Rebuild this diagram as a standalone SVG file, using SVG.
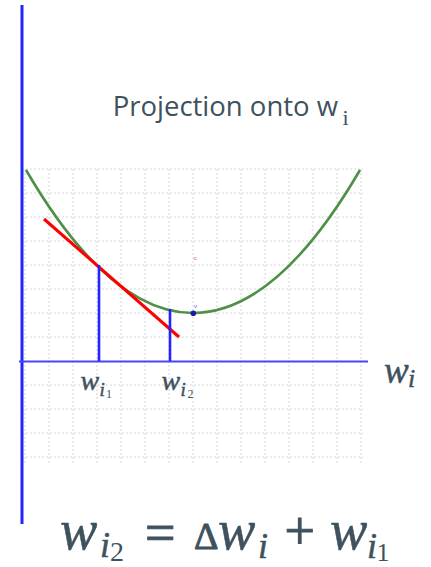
<svg xmlns="http://www.w3.org/2000/svg" width="431" height="567" viewBox="0 0 431 567">
<style>
.grid line{stroke:#d6d6d6;stroke-width:1;stroke-dasharray:2 2}
.ax{stroke:#2424ff;fill:none}
.ink{fill:#3e525e}
.sans{font-family:"Open Sans","Noto Sans",sans-serif}
.math{font-family:"Liberation Serif","DejaVu Serif",serif;font-style:italic;stroke:#3e525e;stroke-width:0.5}
.up{font-family:"Liberation Serif","DejaVu Serif",serif;font-style:normal}
.eq{stroke:#3e525e;stroke-width:1}
</style>
<rect width="431" height="567" fill="#fff"/>
<g id="grid" class="grid">
<line x1="25" y1="169" x2="25" y2="465"/>
<line x1="49" y1="169" x2="49" y2="465"/>
<line x1="73" y1="169" x2="73" y2="465"/>
<line x1="97" y1="169" x2="97" y2="465"/>
<line x1="121" y1="169" x2="121" y2="465"/>
<line x1="145" y1="169" x2="145" y2="465"/>
<line x1="169" y1="169" x2="169" y2="465"/>
<line x1="193" y1="169" x2="193" y2="465"/>
<line x1="217" y1="169" x2="217" y2="465"/>
<line x1="241" y1="169" x2="241" y2="465"/>
<line x1="265" y1="169" x2="265" y2="465"/>
<line x1="289" y1="169" x2="289" y2="465"/>
<line x1="313" y1="169" x2="313" y2="465"/>
<line x1="337" y1="169" x2="337" y2="465"/>
<line x1="361" y1="169" x2="361" y2="465"/>
<line x1="22" y1="169" x2="363" y2="169"/>
<line x1="22" y1="193" x2="363" y2="193"/>
<line x1="22" y1="217" x2="363" y2="217"/>
<line x1="22" y1="241" x2="363" y2="241"/>
<line x1="22" y1="265" x2="363" y2="265"/>
<line x1="22" y1="289" x2="363" y2="289"/>
<line x1="22" y1="313" x2="363" y2="313"/>
<line x1="22" y1="337" x2="363" y2="337"/>
<line x1="22" y1="385" x2="363" y2="385"/>
<line x1="22" y1="409" x2="363" y2="409"/>
<line x1="22" y1="433" x2="363" y2="433"/>
<line x1="22" y1="457" x2="363" y2="457"/>
</g>
<g id="axes">
<line class="ax" x1="22" y1="5" x2="22" y2="524" stroke-width="3"/>
<line x1="19" y1="361.5" x2="368" y2="361.5" stroke="#4646f2" stroke-width="2.2"/>
</g>
<g id="curve">
<path d="M26,170 Q193,456 360,170" fill="none" stroke="#4f8f47" stroke-width="2.6"/>
</g>
<g id="tangent">
<line x1="44" y1="219" x2="179" y2="337" stroke="#ff0000" stroke-width="3"/>
</g>
<g id="projections">
<line class="ax" x1="99" y1="265" x2="99" y2="361" stroke-width="2.6"/>
<line class="ax" x1="170" y1="309" x2="170" y2="361" stroke-width="2.6"/>
</g>
<g id="vertex">
<circle cx="193.3" cy="313.3" r="2.8" fill="#1a1aa8"/>
<text x="194" y="308" font-family="Liberation Sans,sans-serif" font-size="6" fill="#5a5ae0">v</text>
<text x="194" y="260" font-family="Liberation Sans,sans-serif" font-size="5" fill="#d05050">c</text>
</g>
<g id="title">
<text class="sans ink" x="112.7" y="116" font-size="27.5">Projection onto w</text>
<text class="up ink" x="342.5" y="125" font-size="22">i</text>
</g>
<g id="axis-label">
<text class="math ink" x="384" y="382.5" font-size="37">w</text>
<text class="math ink" x="408" y="387" font-size="26">i</text>
</g>
<g id="tick-labels">
<text class="math ink" x="80.5" y="390" font-size="28">w</text>
<text class="math ink" x="99.5" y="396" font-size="19">i</text>
<text class="up ink" x="106" y="398.3" font-size="12">1</text>
<text class="math ink" x="161.5" y="390" font-size="28">w</text>
<text class="math ink" x="180.5" y="396" font-size="19">i</text>
<text class="up ink" x="187.5" y="398.3" font-size="12">2</text>
</g>
<g id="equation">
<text class="math ink" x="60" y="549" font-size="56">w</text>
<text class="math ink" x="100" y="557" font-size="36">i</text>
<text class="up ink" x="110" y="561" font-size="28">2</text>
<text class="up ink eq" x="145" y="551" font-size="54">=</text>
<text class="up ink eq" x="194" y="549" font-size="38">Δ</text>
<text class="math ink" x="218" y="549" font-size="56">w</text>
<text class="math ink" x="258" y="558" font-size="36">i</text>
<text class="up ink eq" x="284.5" y="549" font-size="54">+</text>
<text class="math ink" x="330" y="549" font-size="56">w</text>
<text class="math ink" x="367" y="558" font-size="36">i</text>
<text class="up ink" x="376.5" y="561" font-size="26">1</text>
</g>
</svg>
